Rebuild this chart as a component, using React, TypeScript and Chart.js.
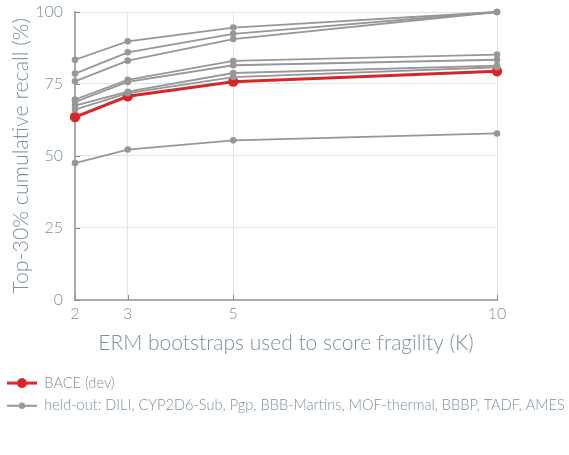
import { useEffect, useRef } from "react";
import { Chart, registerables } from "chart.js";
Chart.register(...registerables);

const kValues = [2, 3, 5, 10];
const yTicks = [0, 25, 50, 75, 100];
const baceLabel = "BACE (dev)";
const baceRecall = [63.5, 70.7, 75.8, 79.4];
const heldOutNames = ["DILI", "CYP2D6-Sub", "Pgp", "BBB-Martins", "MOF-thermal", "BBBP", "TADF", "AMES"];
const heldOutDILI = [83.4, 89.8, 94.6, 100];
const heldOutCYP = [78.6, 86.0, 92.4, 100];
const heldOutPgp = [75.9, 83.1, 90.6, 100];
const heldOutBBBM = [69.6, 76.4, 83.0, 85.2];
const heldOutMOF = [68.8, 75.7, 81.5, 83.4];
const heldOutBBBP = [67.5, 72.3, 78.8, 81.4];
const heldOutTADF = [66.1, 71.8, 77.4, 80.8];
const heldOutAMES = [47.5, 52.2, 55.4, 57.8];
const heldOutSeries = [heldOutDILI, heldOutCYP, heldOutPgp, heldOutBBBM, heldOutMOF, heldOutBBBP, heldOutTADF, heldOutAMES];

const xTitle = "ERM bootstraps used to score fragility (K)";
const yTitle = "Top-30% cumulative recall (%)";

const RED = "#d62728";
const GRAY = "#979797";
const TEXT = "#7a8fa0";
const AXIS = "#a3adb5";
const GRID = "#e3e3e3";
const FONT = "Lato, 'DejaVu Sans', sans-serif";

function makeMarker(color: string, lw: number, r: number) {
  const c = document.createElement("canvas");
  c.width = 30;
  c.height = 14;
  const ctx = c.getContext("2d")!;
  ctx.strokeStyle = color;
  ctx.lineWidth = lw;
  ctx.beginPath();
  ctx.moveTo(0, 7);
  ctx.lineTo(30, 7);
  ctx.stroke();
  ctx.fillStyle = color;
  ctx.beginPath();
  ctx.arc(15, 7, r, 0, Math.PI * 2);
  ctx.fill();
  return c;
}

const inwardTicks = {
  id: "inwardTicks",
  beforeDatasetsDraw(chart: any) {
    const { ctx, chartArea, scales } = chart;
    ctx.save();
    ctx.strokeStyle = "#7f8e99";
    ctx.lineWidth = 1;
    kValues.forEach((k) => {
      const px = Math.round(scales.x.getPixelForValue(k)) + 0.5;
      ctx.beginPath();
      ctx.moveTo(px, chartArea.bottom);
      ctx.lineTo(px, chartArea.bottom - 5);
      ctx.stroke();
    });
    yTicks.forEach((v) => {
      const py = Math.round(scales.y.getPixelForValue(v)) + 0.5;
      ctx.beginPath();
      ctx.moveTo(chartArea.left, py);
      ctx.lineTo(chartArea.left + 5, py);
      ctx.stroke();
    });
    ctx.restore();
  },
};

export default function App() {
  const ref = useRef<HTMLCanvasElement>(null);
  useEffect(() => {
    const redMarker = makeMarker(RED, 3, 5);
    const grayMarker = makeMarker(GRAY, 2, 3.2);
    const grayDatasets = heldOutSeries.map((s, i) => ({
      label: heldOutNames[i],
      data: kValues.map((k, j) => ({ x: k, y: s[j] })),
      borderColor: GRAY,
      backgroundColor: GRAY,
      borderWidth: 1.8,
      pointRadius: 3.3,
      pointBorderWidth: 0,
      clip: false as any,
    }));
    const chart = new Chart(ref.current!, {
      type: "line",
      data: {
        datasets: [
          ...grayDatasets,
          {
            label: baceLabel,
            data: kValues.map((k, j) => ({ x: k, y: baceRecall[j] })),
            borderColor: RED,
            backgroundColor: RED,
            borderWidth: 3,
            pointRadius: 5.2,
            pointBorderWidth: 0,
            clip: false as any,
          },
        ],
      },
      options: {
        animation: false,
        responsive: true,
        maintainAspectRatio: false,
        layout: { padding: { left: -1, right: 0, top: 12, bottom: 32 } },
        scales: {
          x: {
            type: "linear",
            min: 2,
            max: 10,
            afterBuildTicks: (scale: any) => {
              scale.ticks = kValues.map((v) => ({ value: v }));
            },
            afterFit: (scale: any) => {
              scale.height = 68;
              scale.paddingLeft = 0;
              scale.paddingRight = 0;
            },
            ticks: { color: TEXT, font: { family: FONT, size: 16, weight: 300 as any }, padding: 4 },
            grid: { color: GRID, drawTicks: false },
            border: { color: AXIS, width: 2 },
            title: {
              display: true,
              text: xTitle,
              color: TEXT,
              font: { family: FONT, size: 21, weight: 300 as any },
              padding: { top: 0, bottom: 12 },
            },
          },
          y: {
            min: 0,
            max: 100,
            afterBuildTicks: (scale: any) => {
              scale.ticks = yTicks.map((v) => ({ value: v }));
            },
            afterFit: (scale: any) => {
              scale.width = 76;
              scale.paddingTop = 0;
              scale.paddingBottom = 0;
            },
            ticks: { color: TEXT, font: { family: FONT, size: 16, weight: 300 as any }, padding: 12 },
            grid: { color: GRID, drawTicks: false },
            border: { color: AXIS, width: 2 },
            title: {
              display: true,
              text: yTitle,
              color: TEXT,
              font: { family: FONT, size: 21.4, weight: 300 as any },
              padding: { top: 9, bottom: 0 },
            },
          },
          yRightSpace: {
            position: "right",
            display: true,
            afterFit: (scale: any) => {
              scale.width = 72;
              scale.paddingTop = 0;
              scale.paddingBottom = 0;
            },
            ticks: { display: false },
            grid: { display: false },
            border: { display: false },
          },
        },
        plugins: {
          tooltip: { enabled: false },
          legend: {
            position: "bottom",
            align: "start",
            labels: {
              usePointStyle: true,
              pointStyleWidth: 30,
              padding: 8,
              color: TEXT,
              font: { family: FONT, size: 14.6, weight: 300 as any },
              generateLabels: () => [
                {
                  text: baceLabel,
                  pointStyle: redMarker as any,
                  fillStyle: RED,
                  strokeStyle: RED,
                  lineWidth: 0,
                  hidden: false,
                  fontColor: TEXT,
                  datasetIndex: heldOutSeries.length,
                },
                {
                  text: "held-out: " + heldOutNames.join(", "),
                  pointStyle: grayMarker as any,
                  fillStyle: GRAY,
                  strokeStyle: GRAY,
                  lineWidth: 0,
                  hidden: false,
                  fontColor: TEXT,
                  datasetIndex: 0,
                },
              ],
            },
          },
        },
      },
      plugins: [inwardTicks],
    });
    return () => chart.destroy();
  }, []);
  return (
    <div style={{ position: "absolute", left: 0, top: 0, width: 569, height: 455 }}>
      <canvas ref={ref} />
    </div>
  );
}
